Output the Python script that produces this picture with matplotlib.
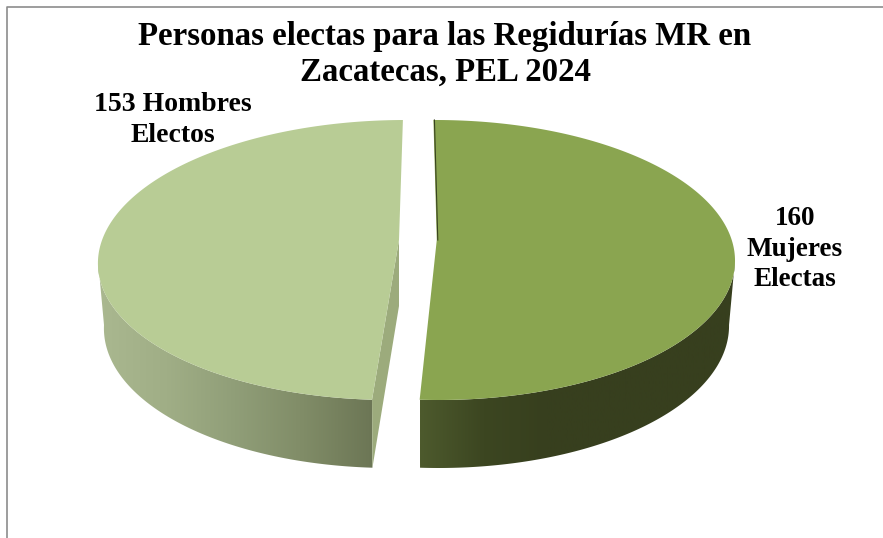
import numpy as np
import matplotlib
matplotlib.use('Agg')
import matplotlib.pyplot as plt
from matplotlib.colors import LinearSegmentedColormap
from matplotlib.patches import Polygon

titulo = 'Personas electas para las Regidurías MR en\nZacatecas, PEL 2024'
valores = [160, 153]
etiquetas = ['160\nMujeres\nElectas', '153 Hombres\nElectos']

W, H = 883, 538
fig = plt.figure(figsize=(W / 100, H / 100), dpi=100)
ax = fig.add_axes([0, 0, 1, 1])
ax.set_xlim(0, W)
ax.set_ylim(H, 0)
ax.axis('off')

plt.rcParams['font.family'] = ['Liberation Serif', 'DejaVu Serif']

# marco del grafico, solo se ve arriba y a la izquierda
ax.plot([6.5, 6.5, W], [H, 6.5, 6.5], color='#8c8c8c', lw=1.2, zorder=1)


def arco(cx, cy, rx, ry, ini, fin, sesgo):
    t = np.radians(np.linspace(ini, fin, 200))
    x = cx + rx * np.sin(t)
    y = cy - ry * np.cos(t)
    return x + sesgo * (y - cy) / ry, y


# geometria de cada rebanada: centro, color de arriba, gradiente de la pared
cxs = [437, 398]
rxs = [298, 300]
sesgos = [1.5, -7]
arriba = ['#8aa550', '#b8cc95']
corte = ['#38421f', '#9cab7c']
paredes = [['#4d5a2d', '#3c4621', '#373f1e', '#373f1e', '#373f1e', '#373f1e'],
           ['#aab890', '#a0ae86', '#909e78', '#808c67', '#6c7655']]
cy, ry = 260, 140
cy2, ry2, esc2 = 325, 143, 0.98
yc, yc2 = 240, 306

ini = -0.4
for i, v in enumerate(valores):
    fin = ini + 360 * v / sum(valores)
    cx, rx, s = cxs[i], rxs[i], sesgos[i]
    xa, ya = arco(cx, cy, rx, ry, ini, fin, s)
    xc = cx + s * (yc - cy) / ry

    # pared exterior con gradiente, solo la parte de enfrente
    v0, v1 = max(ini, 90), min(fin, 270)
    xp, yp = arco(cx, cy, rx, ry, v0, v1, s)
    xb, yb = arco(cx, cy2, rx * esc2, ry2, v0, v1, s)
    pared = Polygon(np.column_stack([np.r_[xp, xb[::-1]], np.r_[yp, yb[::-1]]]),
                    closed=True, fc='none', ec='none', transform=ax.transData)
    ax.add_patch(pared)
    cmap = LinearSegmentedColormap.from_list('p%d' % i, paredes[i])
    img = ax.imshow(np.linspace(0, 1, 256).reshape(1, -1), cmap=cmap, aspect='auto',
                    extent=[min(xb.min(), xp.min()), max(xb.max(), xp.max()), H, 0], zorder=2)
    img.set_clip_path(pared)

    # cara del corte
    if i == 1:
        ax.add_patch(Polygon([(xa[0], ya[0]), (xc, yc), (xc, yc2), (xb[0], yb[0])],
                             closed=True, fc=corte[i], ec='none', zorder=3))
    else:
        ax.plot([xa[0] + 1, xc + 1], [ya[0], yc], color=corte[i], lw=0.8, zorder=5)

    # cara de arriba
    ax.add_patch(Polygon(np.column_stack([np.r_[xc, xa], np.r_[yc, ya]]),
                         closed=True, fc=arriba[i], ec='none', zorder=4))
    ini = fin

ax.text(445, 54, titulo, ha='center', va='center', fontsize=23.7, fontweight='bold',
        color='black', linespacing=1.2, zorder=6)
ax.text(795, 249, etiquetas[0], ha='center', va='center', fontsize=19.5, fontweight='bold',
        color='black', linespacing=1.3, zorder=6)
ax.text(173, 120, etiquetas[1], ha='center', va='center', fontsize=20, fontweight='bold',
        color='black', linespacing=1.3, zorder=6)

ax.set_xlim(0, W)
ax.set_ylim(H, 0)
fig.savefig('out.png', dpi=100)
